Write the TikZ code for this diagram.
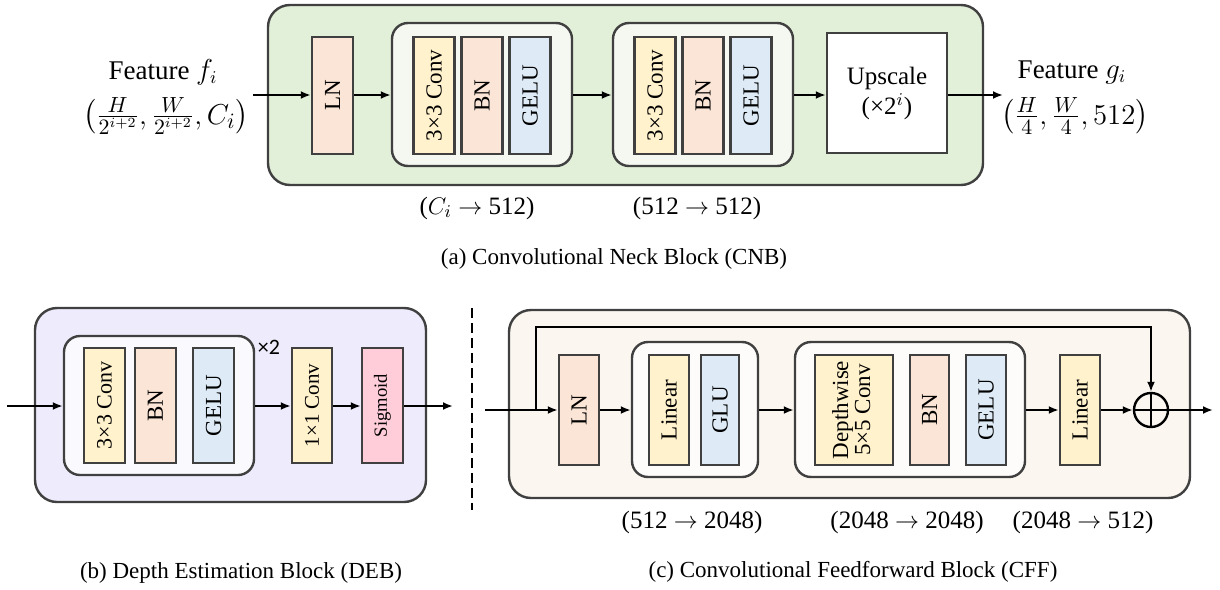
\documentclass[tikz,border=0pt]{standalone}
\usepackage{amsmath}
\usepackage{fontspec}
\usepackage{graphicx}
\setmainfont{Liberation Serif}
\newfontfamily\carlito{Carlito}
\usetikzlibrary{arrows.meta}
\definecolor{bd}{HTML}{404040}
\definecolor{yel}{HTML}{FFF2CC}
\definecolor{peach}{HTML}{FBE5D6}
\definecolor{lblue}{HTML}{DEEBF7}
\definecolor{pink}{HTML}{FFCCD9}
\definecolor{greenO}{HTML}{E2F0D9}
\definecolor{greenI}{HTML}{F4F8F1}
\definecolor{purpO}{HTML}{EEEBFC}
\definecolor{purpI}{HTML}{FAFAFE}
\definecolor{beigeO}{HTML}{FBF6F0}
\definecolor{beigeI}{HTML}{FEFCFA}
\begin{document}
\begin{tikzpicture}[x=0.5pt,y=-0.5pt,
  outerbox/.style={draw=bd, line width=1.2pt, rounded corners=11pt, inner sep=0pt},
  innerbox/.style={draw=bd, line width=1.2pt, rounded corners=8pt, inner sep=0pt},
  blk/.style={draw=bd, line width=1.2pt, inner sep=0pt, minimum width=20.5pt, minimum height=58.5pt, font=\fontsize{11.5}{13}\selectfont},
  arr/.style={-{Latex[length=5pt,width=4pt]}, line width=1pt},
  lbl/.style={inner sep=0pt, font=\fontsize{12.5}{14}\selectfont},
  captext/.style={inner sep=0pt, font=\fontsize{11.5}{13}\selectfont},
  feat/.style={inner sep=0pt, font=\fontsize{13.5}{15}\selectfont},
  tuple/.style={inner sep=0pt, font=\fontsize{15}{17}\selectfont}
]
\useasboundingbox (0,0) rectangle (1220,589);

% ---------------- (a) CNB ----------------
\node[outerbox, fill=greenO, minimum width=357.5pt, minimum height=90pt] (oa) at (625.5,95) {};
\node[blk, fill=peach, minimum height=58.5pt] (lna) at (332.5,95.5) {\rotatebox{90}{LN}};
\node[innerbox, fill=greenI, minimum width=90pt, minimum height=71.5pt] (ia1) at (482,94.5) {};
\node[blk, fill=yel] (ca1) at (434,95.5) {\rotatebox{90}{3×3 Conv}};
\node[blk, fill=peach] (ba1) at (482,95.5) {\rotatebox{90}{BN}};
\node[blk, fill=lblue] (ga1) at (530,95.5) {\rotatebox{90}{GELU}};
\node[innerbox, fill=greenI, minimum width=90pt, minimum height=71.5pt] (ia2) at (703,94.5) {};
\node[blk, fill=yel] (ca2) at (655,95.5) {\rotatebox{90}{3×3 Conv}};
\node[blk, fill=peach] (ba2) at (703,95.5) {\rotatebox{90}{BN}};
\node[blk, fill=lblue] (ga2) at (751,95.5) {\rotatebox{90}{GELU}};
\node[draw=bd, line width=1.2pt, fill=white, minimum width=60pt, minimum height=60pt, inner sep=0pt, align=center, font=\fontsize{12.5}{15}\selectfont] (up) at (887,93) {Upscale\\(×2$^{i}$)};

\node[feat] (fin) at (163,72) {Feature $f_i$};
\node[tuple] (fint) at (166,116) {$\left(\tfrac{H}{2^{i+2}},\tfrac{W}{2^{i+2}},C_i\right)$};
\node[feat] (fout) at (1072,72) {Feature $g_i$};
\node[tuple] (foutt) at (1075,116) {$\left(\tfrac{H}{4},\tfrac{W}{4},512\right)$};

\coordinate (ina) at (253,95);
\coordinate (outa) at (1003,95);
\draw[arr] (ina) -- (ina -| lna.west);
\draw[arr] (lna.east |- ina) -- (ina -| ia1.west);
\draw[arr] (ia1.east |- ina) -- (ina -| ia2.west);
\draw[arr] (ia2.east |- ina) -- (ina -| up.west);
\draw[arr] (up.east |- ina) -- (outa);

\node[lbl] (la1) at (477,208) {($C_i$ $\rightarrow$ 512)};
\node[lbl] (la2) at (697,208) {(512 $\rightarrow$ 512)};
\node[captext] (capa) at (614,259) {(a) Convolutional Neck Block (CNB)};

% ---------------- (b) DEB ----------------
\node[outerbox, fill=purpO, minimum width=195.5pt, minimum height=97pt] (ob) at (230.5,405) {};
\node[innerbox, fill=purpI, minimum width=95pt, minimum height=69.5pt] (ib) at (159,405.5) {};
\node[blk, fill=yel, minimum height=57.5pt, font=\fontsize{11}{13}\selectfont] (cb) at (104.5,405.5) {\rotatebox{90}{3×3 Conv}};
\node[blk, fill=peach, minimum height=57.5pt] (bb) at (155.5,405.5) {\rotatebox{90}{BN}};
\node[blk, fill=lblue, minimum height=57.5pt] (gb) at (213.5,405.5) {\rotatebox{90}{GELU}};
\node[blk, fill=yel, minimum width=20pt, minimum height=57.5pt, font=\fontsize{10.5}{13}\selectfont] (c1b) at (312,405.5) {\rotatebox{90}{1×1 Conv}};
\node[blk, fill=pink, minimum width=20.5pt, minimum height=57.5pt, font=\fontsize{9.3}{11}\selectfont] (sb) at (382.5,405.5) {\rotatebox{90}{Sigmoid}};
\node[inner sep=0pt, font=\carlito\fontsize{11}{13}\selectfont] (x2) at (269,347) {×2};

\coordinate (inb) at (7,406);
\coordinate (outb) at (453,406);
\draw[arr] (inb) -- (inb -| ib.west);
\draw[arr] (ib.east |- inb) -- (inb -| c1b.west);
\draw[arr] (c1b.east |- inb) -- (inb -| sb.west);
\draw[arr] (sb.east |- inb) -- (outb);

\coordinate (dtop) at (472,308);
\coordinate (dbot) at (472,510);
\draw[line width=0.75pt, dash pattern=on 5pt off 2.5pt] (dtop) -- (dbot);

\node[captext] (capb) at (241,573) {(b) Depth Estimation Block (DEB)};

% ---------------- (c) CFF ----------------
\node[outerbox, fill=beigeO, minimum width=340.5pt, minimum height=94pt] (oc) at (849.5,404) {};
\node[blk, fill=peach, minimum width=20pt, minimum height=55pt] (lnc) at (579,410) {\rotatebox{90}{LN}};
\node[innerbox, fill=beigeI, minimum width=63pt, minimum height=67.5pt] (ic1) at (695,409.5) {};
\node[blk, fill=yel, minimum width=20pt, minimum height=55pt] (lc1) at (669,410) {\rotatebox{90}{Linear}};
\node[blk, fill=lblue, minimum width=19pt, minimum height=55pt] (gc1) at (720,410) {\rotatebox{90}{GLU}};
\node[innerbox, fill=beigeI, minimum width=115pt, minimum height=67.5pt] (ic2) at (910,409.5) {};
\node[blk, fill=yel, minimum width=39pt, minimum height=55pt] (dc) at (854,410) {\rotatebox{90}{\begin{tabular}{@{}c@{}}Depthwise\\[-2pt]5×5 Conv\end{tabular}}};
\node[blk, fill=peach, minimum width=19.5pt, minimum height=55pt] (bc) at (929.5,410) {\rotatebox{90}{BN}};
\node[blk, fill=lblue, minimum width=20pt, minimum height=55pt] (gc) at (986,410) {\rotatebox{90}{GELU}};
\node[blk, fill=yel, minimum width=20pt, minimum height=55pt] (lc2) at (1080,410) {\rotatebox{90}{Linear}};
\node[circle, draw=black, line width=1.2pt, minimum size=17pt, inner sep=0pt] (plus) at (1151,410) {};
\draw[line width=1.2pt] (plus.north) -- (plus.south) (plus.west) -- (plus.east);

\coordinate (inc) at (485,410);
\coordinate (sk) at (536,410);
\coordinate (skt) at (536,327);
\coordinate (outc) at (1213,410);
\draw[arr] (inc) -- (lnc.west);
\draw[arr] (lnc.east) -- (lnc.east -| ic1.west);
\draw[arr] (ic1.east |- lnc.east) -- (lnc.east -| ic2.west);
\draw[arr] (ic2.east |- lnc.east) -- (lnc.east -| lc2.west);
\draw[arr] (lc2.east) -- (plus.west);
\draw[arr] (plus.east) -- (outc);
\draw[arr] (sk) -- (skt) -| (plus.north);

\node[lbl] (lc1l) at (692,522) {(512 $\rightarrow$ 2048)};
\node[lbl] (lc2l) at (907,522) {(2048 $\rightarrow$ 2048)};
\node[lbl] (lc3l) at (1083,522) {(2048 $\rightarrow$ 512)};
\node[captext] (capc) at (853,572) {(c) Convolutional Feedforward Block (CFF)};
\end{tikzpicture}
\end{document}
